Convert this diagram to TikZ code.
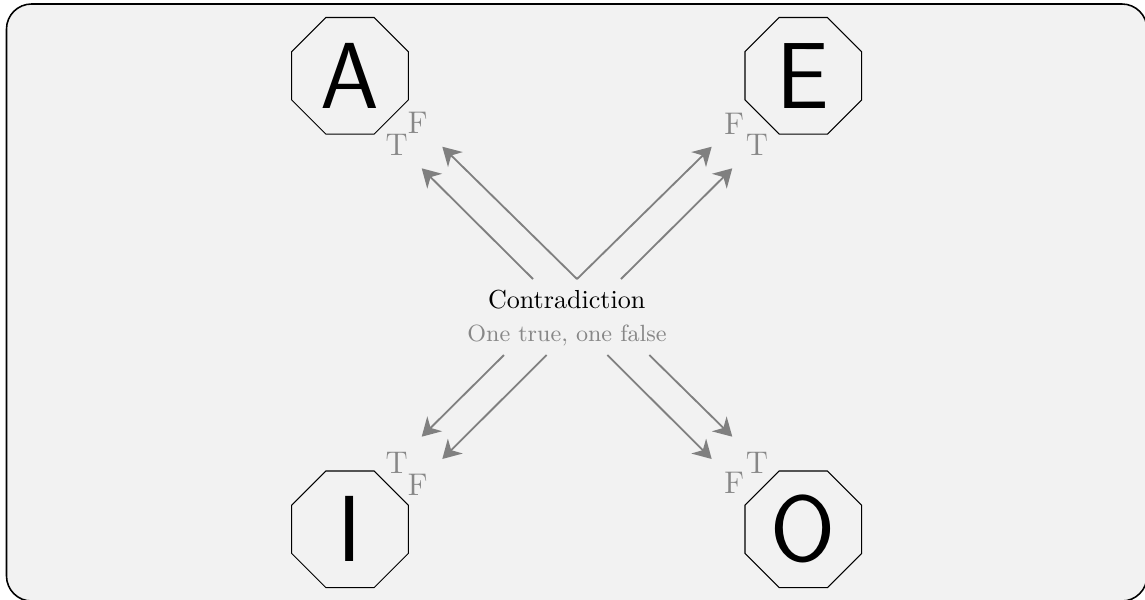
\documentclass[tikz,border=0pt]{standalone}
\usetikzlibrary{shapes.geometric,arrows.meta}
\begin{document}
\begin{tikzpicture}[x=0.3835pt,y=-0.3835pt,
  oct/.style={regular polygon,regular polygon sides=8,draw=black,line width=0.4pt,
    minimum size=48.4pt,inner sep=0pt,font=\fontsize{36}{40}\selectfont\sffamily},
  tf/.style={text=black!47,font=\large,anchor=base,inner sep=0pt},
  conn/.style={draw=black!50,line width=0.7pt,-{Stealth[length=7pt,width=8pt,inset=2.2pt]}}]
\useasboundingbox (0,0) rectangle (1145,599);
\draw[fill=black!5,line width=0.6pt,rounded corners=9.6pt] (6.5,4) rectangle (1147,601);
% octagons
\node[oct] (A) at (350,75.8) {A};
\node[oct] (E) at (803.3,75.8) {E};
\node[oct] (I) at (350,529.3) {I};
\node[oct] (O) at (803.3,529.3) {O};
% center texts
\node[anchor=base,inner sep=0pt] (ctr) at (566.7,308.3) {Contradiction};
\node[anchor=base,inner sep=0pt,text=black!47,font=\small] (sub) at (567,341.5) {One true, one false};
% T/F labels
\node[tf] (aT) at (396.7,155) {T};
\node[tf] (aF) at (417.5,133.3) {F};
\node[tf] (eF) at (734,134.5) {F};
\node[tf] (eT) at (757,155) {T};
\node[tf] (iT) at (396.7,473.3) {T};
\node[tf] (iF) at (417.5,495) {F};
\node[tf] (oF) at (734,493.3) {F};
\node[tf] (oT) at (757,473.3) {T};
% arrow coordinates
\coordinate (a1s) at (533,279);   \coordinate (a1t) at (421.7,168.3);
\coordinate (a2s) at (577,279);   \coordinate (a2t) at (442.3,146.7);
\coordinate (e1s) at (577,279);   \coordinate (e1t) at (711.7,146.7);
\coordinate (e2s) at (621,279);   \coordinate (e2t) at (732.3,168.3);
\coordinate (i1s) at (504,355);   \coordinate (i1t) at (421.7,436.7);
\coordinate (i2s) at (546.7,355); \coordinate (i2t) at (442.3,459);
\coordinate (o1s) at (607.3,355); \coordinate (o1t) at (711.7,459);
\coordinate (o2s) at (649.3,355); \coordinate (o2t) at (732.3,436.7);
\draw[conn] (a1s) -- (a1t);
\draw[conn] (a2s) -- (a2t);
\draw[conn] (e1s) -- (e1t);
\draw[conn] (e2s) -- (e2t);
\draw[conn] (i1s) -- (i1t);
\draw[conn] (i2s) -- (i2t);
\draw[conn] (o1s) -- (o1t);
\draw[conn] (o2s) -- (o2t);
\end{tikzpicture}
\end{document}
